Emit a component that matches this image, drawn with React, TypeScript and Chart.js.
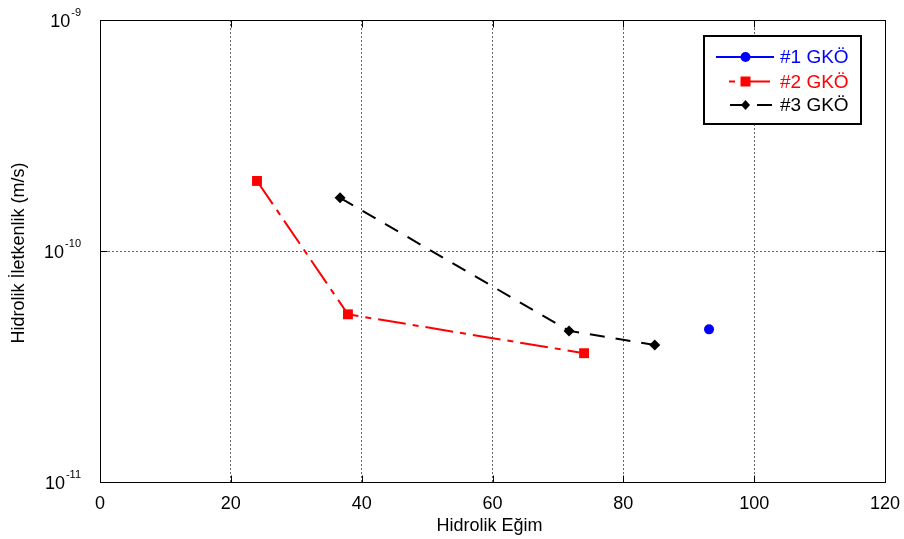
import React, { useEffect, useRef } from 'react';
import { Chart, registerables } from 'chart.js';

Chart.register(...registerables);

// ---- data ----
const seriesNames = ['#1 GKÖ', '#2 GKÖ', '#3 GKÖ'];
const seriesColors = ['#0000ff', '#ff0000', '#000000'];
const gko1X = [93.1];
const gko1Y = [4.58e-11];
const gko2X = [24.0, 37.9, 74.0];
const gko2Y = [2.01e-10, 5.32e-11, 3.61e-11];
const gko3X = [36.7, 71.7, 84.8];
const gko3Y = [1.7e-10, 4.51e-11, 3.92e-11];
const xTickValues = [0, 20, 40, 60, 80, 100, 120];
const yTickExponents = [-11, -10, -9];
const xTitle = 'Hidrolik Eğim';
const yTitle = 'Hidrolik İletkenlik (m/s)';

const FONT = '"Liberation Sans", Arial, Helvetica, sans-serif';

const toPoints = (xs: number[], ys: number[]) => xs.map((x, i) => ({ x, y: ys[i] }));

function drawMarker(ctx: CanvasRenderingContext2D, kind: string, x: number, y: number, color: string) {
  ctx.save();
  ctx.fillStyle = color;
  ctx.setLineDash([]);
  ctx.beginPath();
  if (kind === 'circle') {
    ctx.arc(x, y, 5, 0, Math.PI * 2);
  } else if (kind === 'rect') {
    ctx.rect(x - 5, y - 5, 10, 10);
  } else {
    ctx.moveTo(x, y - 5);
    ctx.lineTo(x + 4.5, y);
    ctx.lineTo(x, y + 5);
    ctx.lineTo(x - 4.5, y);
    ctx.closePath();
  }
  ctx.fill();
  ctx.restore();
}

const decorPlugin = {
  id: 'decor',
  afterDraw(chart: any) {
    const { ctx, chartArea: a, scales } = chart;
    const xs = scales.x;
    const ys = scales.y;
    ctx.save();

    // frame
    ctx.setLineDash([]);
    ctx.strokeStyle = '#000';
    ctx.lineWidth = 1;
    const L = Math.round(a.left) + 0.5;
    const R = Math.round(a.right) + 0.5;
    const T = Math.round(a.top) + 0.5;
    const B = Math.round(a.bottom) + 0.5;
    ctx.strokeRect(L, T, R - L, B - T);

    // inner major ticks
    ctx.beginPath();
    for (const v of xTickValues) {
      const px = Math.round(xs.getPixelForValue(v)) + 0.5;
      ctx.moveTo(px, B);
      ctx.lineTo(px, B - 7);
      ctx.moveTo(px, T);
      ctx.lineTo(px, T + 7);
    }
    for (const e of yTickExponents) {
      const py = Math.round(ys.getPixelForValue(Math.pow(10, e))) + 0.5;
      ctx.moveTo(L, py);
      ctx.lineTo(L + 7, py);
      ctx.moveTo(R, py);
      ctx.lineTo(R - 7, py);
    }
    ctx.stroke();

    // x tick labels
    ctx.fillStyle = '#000';
    ctx.font = `18px ${FONT}`;
    ctx.textAlign = 'center';
    ctx.textBaseline = 'alphabetic';
    for (const v of xTickValues) {
      ctx.fillText(String(v), xs.getPixelForValue(v), a.bottom + 27);
    }

    // y tick labels 10^e
    ctx.textAlign = 'right';
    for (const e of yTickExponents) {
      const py = ys.getPixelForValue(Math.pow(10, e));
      const expStr = String(e);
      ctx.font = `11px ${FONT}`;
      const ew = ctx.measureText(expStr).width;
      ctx.fillText(expStr, 81, py - 4.5);
      ctx.font = `18px ${FONT}`;
      ctx.fillText('10', 81 - ew - 1, py + 7);
    }

    // axis titles
    ctx.font = `18px ${FONT}`;
    ctx.textAlign = 'center';
    ctx.fillText(xTitle, (a.left + a.right) / 2 - 3, 531);
    ctx.save();
    ctx.translate(24, (a.top + a.bottom) / 2 + 2);
    ctx.rotate(-Math.PI / 2);
    ctx.fillText(yTitle, 0, 0);
    ctx.restore();

    // legend
    ctx.fillStyle = '#fff';
    ctx.fillRect(703, 35, 158, 90);
    ctx.strokeStyle = '#000';
    ctx.lineWidth = 2;
    ctx.strokeRect(704, 36, 157, 88);

    const rowsY = [57, 81.5, 105];
    const markers = ['circle', 'rect', 'rectRot'];
    const dashes = [[], [6, 7, 28, 7], [15, 12]];
    const starts = [716, 729, 730];
    const ends = [774, 771, 772];
    ctx.font = `19px ${FONT}`;
    ctx.textAlign = 'left';
    ctx.textBaseline = 'middle';
    for (let i = 0; i < 3; i++) {
      const y = rowsY[i];
      ctx.strokeStyle = seriesColors[i];
      ctx.lineWidth = 2;
      ctx.setLineDash(dashes[i]);
      ctx.beginPath();
      ctx.moveTo(starts[i], y);
      ctx.lineTo(ends[i], y);
      ctx.stroke();
      ctx.setLineDash([]);
      drawMarker(ctx, markers[i], 745.5, y, seriesColors[i]);
      ctx.fillStyle = seriesColors[i];
      ctx.fillText(seriesNames[i], 780, y + 1);
    }

    ctx.restore();
  },
};

export default function App() {
  const canvasRef = useRef<HTMLCanvasElement | null>(null);

  useEffect(() => {
    const canvas = canvasRef.current;
    if (!canvas) return;
    const chart = new Chart(canvas, {
      type: 'line',
      data: {
        datasets: [
          {
            label: seriesNames[0],
            data: toPoints(gko1X, gko1Y),
            borderColor: seriesColors[0],
            backgroundColor: seriesColors[0],
            borderWidth: 2,
            pointStyle: 'circle',
            pointRadius: 5,
            pointBorderWidth: 0,
            showLine: true,
          },
          {
            label: seriesNames[1],
            data: toPoints(gko2X, gko2Y),
            borderColor: seriesColors[1],
            backgroundColor: seriesColors[1],
            borderWidth: 2,
            borderDash: [28, 7, 6, 7],
            pointStyle: 'rect',
            pointRadius: 7,
            pointBorderWidth: 0,
            showLine: true,
          },
          {
            label: seriesNames[2],
            data: toPoints(gko3X, gko3Y),
            borderColor: seriesColors[2],
            backgroundColor: seriesColors[2],
            borderWidth: 2,
            borderDash: [15, 11],
            pointStyle: 'rectRot',
            pointRadius: 5.5,
            pointBorderWidth: 0,
            showLine: true,
          },
        ],
      },
      options: {
        animation: false,
        responsive: false,
        devicePixelRatio: 1,
        layout: { padding: { left: 0, right: 19, top: 20, bottom: 0 } },
        plugins: { legend: { display: false }, tooltip: { enabled: false } },
        elements: { line: { tension: 0 } },
        scales: {
          x: {
            type: 'linear',
            min: 0,
            max: 120,
            afterBuildTicks: (s: any) => {
              s.ticks = xTickValues.map((v) => ({ value: v }));
            },
            afterFit: (s: any) => {
              s.height = 57;
            },
            ticks: { display: false },
            grid: { color: '#666', lineWidth: 1, drawTicks: false },
            border: { display: false, dash: [2, 2] },
          },
          y: {
            type: 'logarithmic',
            min: 1e-11,
            max: 1e-9,
            afterBuildTicks: (s: any) => {
              s.ticks = yTickExponents.map((e) => ({ value: Math.pow(10, e) }));
            },
            afterFit: (s: any) => {
              s.width = 100;
            },
            ticks: { display: false },
            grid: { color: '#666', lineWidth: 1, drawTicks: false },
            border: { display: false, dash: [2, 2] },
          },
        },
      } as any,
      plugins: [decorPlugin],
    });
    return () => chart.destroy();
  }, []);

  return (
    <div style={{ position: 'absolute', left: 0, top: 0, width: 904, height: 539, background: '#fff' }}>
      <canvas ref={canvasRef} width={904} height={539} style={{ display: 'block', width: 904, height: 539 }} />
    </div>
  );
}
